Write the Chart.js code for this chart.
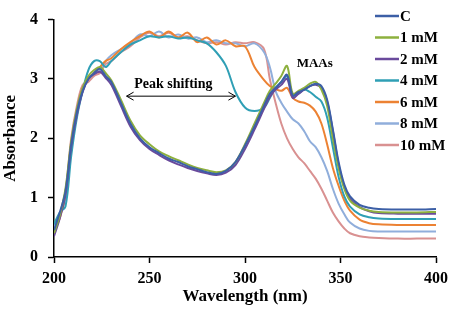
<!DOCTYPE html>
<html>
<head>
<meta charset="utf-8">
<script src="https://cdn.jsdelivr.net/npm/chart.js@4.4.1/dist/chart.umd.min.js"></script>
<style>
  body { margin: 0; background: #fff; }
  canvas { display: block; }
</style>
</head>
<body>
<canvas id="myChart" width="454" height="310"></canvas>
<script>
// Data (wavelength in nm, absorbance)
var wavelength = [200, 203, 206, 209, 212, 215, 218, 221, 224, 227, 230, 235, 240, 245, 250, 255, 260, 265, 270, 275, 280, 285, 290, 295, 300, 305, 310, 313, 316, 319, 322, 325, 328, 331, 334, 337, 340, 343, 346, 349, 352, 355, 360, 365, 370, 380, 390, 400];

var absC = [0.45, 0.75, 1.1, 1.9, 2.45, 2.8, 3.0, 3.1, 3.17, 3.05, 2.95, 2.6, 2.25, 2.0, 1.85, 1.75, 1.66, 1.6, 1.53, 1.48, 1.43, 1.4, 1.45, 1.6, 1.88, 2.2, 2.55, 2.75, 2.85, 2.95, 3.07, 2.72, 2.78, 2.82, 2.88, 2.92, 2.88, 2.65, 2.15, 1.6, 1.22, 1.02, 0.88, 0.83, 0.81, 0.8, 0.8, 0.81];
var abs1mM = [0.4, 0.7, 1.15, 1.95, 2.5, 2.85, 3.05, 3.15, 3.2, 3.1, 2.98, 2.65, 2.3, 2.05, 1.9, 1.78, 1.7, 1.63, 1.56, 1.5, 1.46, 1.43, 1.46, 1.6, 1.9, 2.25, 2.6, 2.8, 2.92, 3.05, 3.22, 2.75, 2.8, 2.85, 2.92, 2.95, 2.82, 2.55, 2.0, 1.5, 1.15, 0.95, 0.83, 0.78, 0.76, 0.75, 0.75, 0.76];
var abs2mM = [0.35, 0.65, 1.05, 1.85, 2.4, 2.78, 3.0, 3.08, 3.12, 3.02, 2.9, 2.55, 2.2, 1.97, 1.82, 1.72, 1.63, 1.56, 1.5, 1.45, 1.41, 1.38, 1.42, 1.55, 1.82, 2.15, 2.5, 2.7, 2.82, 2.9, 3.0, 2.68, 2.75, 2.82, 2.88, 2.9, 2.85, 2.62, 2.12, 1.56, 1.18, 0.98, 0.84, 0.77, 0.74, 0.73, 0.73, 0.73];
var abs4mM = [0.55, 0.75, 0.85, 1.7, 2.35, 2.8, 3.15, 3.3, 3.3, 3.2, 3.3, 3.45, 3.58, 3.65, 3.72, 3.7, 3.72, 3.68, 3.7, 3.65, 3.6, 3.45, 3.22, 2.78, 2.52, 2.46, 2.52, 2.68, 2.85, 2.95, 3.05, 2.72, 2.75, 2.82, 2.78, 2.7, 2.62, 2.35, 1.85, 1.35, 1.02, 0.85, 0.72, 0.67, 0.65, 0.64, 0.64, 0.64];
var abs6mM = [0.45, 0.65, 1.05, 1.9, 2.45, 2.85, 3.0, 3.1, 3.2, 3.3, 3.35, 3.5, 3.62, 3.72, 3.8, 3.7, 3.8, 3.7, 3.78, 3.62, 3.7, 3.58, 3.65, 3.55, 3.55, 3.2, 2.98, 2.88, 2.83, 2.8, 2.85, 2.68, 2.62, 2.6, 2.55, 2.45, 2.25, 1.9, 1.5, 1.2, 0.95, 0.78, 0.63, 0.57, 0.55, 0.54, 0.54, 0.54];
var abs8mM = [0.5, 0.7, 1.0, 1.8, 2.4, 2.8, 3.0, 3.1, 3.15, 3.3, 3.4, 3.5, 3.6, 3.75, 3.72, 3.8, 3.7, 3.75, 3.68, 3.7, 3.62, 3.65, 3.6, 3.6, 3.55, 3.6, 3.45, 3.2, 2.8, 2.6, 2.45, 2.32, 2.25, 2.12, 1.95, 1.85, 1.68, 1.45, 1.15, 0.9, 0.72, 0.58, 0.48, 0.44, 0.43, 0.43, 0.43, 0.43];
var abs10mM = [0.45, 0.7, 1.1, 2.0, 2.55, 2.9, 2.95, 3.05, 3.1, 3.25, 3.3, 3.45, 3.55, 3.7, 3.78, 3.72, 3.78, 3.7, 3.72, 3.65, 3.6, 3.62, 3.58, 3.62, 3.6, 3.62, 3.5, 3.0, 2.6, 2.25, 2.0, 1.82, 1.68, 1.58, 1.45, 1.32, 1.15, 0.95, 0.75, 0.6, 0.48, 0.4, 0.35, 0.33, 0.32, 0.31, 0.31, 0.31];

var seriesLabels = ["C", "1 mM", "2 mM", "4 mM", "6 mM", "8 mM", "10 mM"];
var seriesValues = [absC, abs1mM, abs2mM, abs4mM, abs6mM, abs8mM, abs10mM];
var seriesColors = ['#3c5fa6', '#8db03e', '#6a4a9c', '#2f9fb5', '#ec8233', '#90aedb', '#d99191'];

var xTicks = [200, 250, 300, 350, 400];
var yTicks = [0, 1, 2, 3, 4];

var serif = "'Liberation Serif', 'Times New Roman', serif";

function toPoints(values) {
  return wavelength.map(function (w, i) { return { x: w, y: values[i] }; });
}

var datasets = seriesLabels.map(function (lab, i) {
  return {
    label: lab,
    data: toPoints(seriesValues[i]),
    borderColor: seriesColors[i],
    backgroundColor: seriesColors[i],
    borderWidth: 2,
    pointRadius: 0,
    tension: 0.35,
    fill: false
  };
});
// draw order: later concentrations underneath the control group
datasets.forEach(function (d, i) { d.order = i; });

// legend + annotations drawn on top
var extras = {
  id: 'extras',
  afterDatasetsDraw: function (chart) {
    var c = chart.ctx;
    var xs = chart.scales.x, ys = chart.scales.y;
    c.save();

    // legend
    c.font = "bold 15px " + serif;
    c.textBaseline = 'middle';
    c.textAlign = 'left';
    for (var i = 0; i < seriesLabels.length; i++) {
      var ly = 16 + i * 21.5;
      c.strokeStyle = seriesColors[i];
      c.lineWidth = 2.5;
      c.beginPath();
      c.moveTo(375, ly);
      c.lineTo(399, ly);
      c.stroke();
      c.fillStyle = '#000';
      c.fillText(seriesLabels[i], 400, ly + 1);
    }

    // Peak shifting arrow
    var ax1 = xs.getPixelForValue(238), ax2 = xs.getPixelForValue(295);
    var ay = ys.getPixelForValue(2.71);
    c.strokeStyle = '#000';
    c.lineWidth = 1;
    c.beginPath();
    c.moveTo(ax1, ay); c.lineTo(ax2, ay);
    c.moveTo(ax1 + 7, ay - 4); c.lineTo(ax1, ay); c.lineTo(ax1 + 7, ay + 4);
    c.moveTo(ax2 - 7, ay - 4); c.lineTo(ax2, ay); c.lineTo(ax2 - 7, ay + 4);
    c.stroke();

    c.fillStyle = '#000';
    c.textAlign = 'center';
    c.font = "bold 14px " + serif;
    c.fillText('Peak shifting', xs.getPixelForValue(262.5), ys.getPixelForValue(2.9));
    c.font = "bold 13px " + serif;
    c.fillText('MAAs', xs.getPixelForValue(336.5), ys.getPixelForValue(3.26));
    c.restore();
  }
};

var ctx = document.getElementById('myChart').getContext('2d');
var myChart = new Chart(ctx, {
  type: 'line',
  data: { datasets: datasets },
  options: {
    responsive: false,
    animation: false,
    layout: { padding: { top: 9, right: 16, left: 0, bottom: 0 } },
    plugins: {
      legend: { display: false },
      tooltip: { enabled: false }
    },
    scales: {
      x: {
        type: 'linear',
        min: 200,
        max: 400,
        afterBuildTicks: function (axis) {
          axis.ticks = xTicks.map(function (v) { return { value: v }; });
        },
        afterFit: function (axis) { axis.height = 53; },
        grid: { drawOnChartArea: false, color: '#000', tickLength: 6, tickWidth: 1.5 },
        border: { color: '#000', width: 1.5 },
        ticks: {
          color: '#000',
          padding: 6,
          maxRotation: 0,
          font: { family: serif, size: 16, weight: 'bold' }
        },
        title: {
          display: true,
          text: 'Wavelength (nm)',
          color: '#000',
          padding: { top: 0, bottom: 3 },
          font: { family: serif, size: 17, weight: 'bold' }
        }
      },
      y: {
        min: 0,
        max: 4,
        afterBuildTicks: function (axis) {
          axis.ticks = yTicks.map(function (v) { return { value: v }; });
        },
        afterFit: function (axis) { axis.width = 54; },
        grid: { drawOnChartArea: false, color: '#000', tickLength: 6, tickWidth: 1.5 },
        border: { color: '#000', width: 1.5 },
        ticks: {
          color: '#000',
          padding: 10,
          font: { family: serif, size: 16, weight: 'bold' }
        },
        title: {
          display: true,
          text: 'Absorbance',
          color: '#000',
          padding: { top: 0, bottom: 0 },
          font: { family: serif, size: 17, weight: 'bold' }
        }
      }
    }
  },
  plugins: [extras]
});
</script>
</body>
</html>
